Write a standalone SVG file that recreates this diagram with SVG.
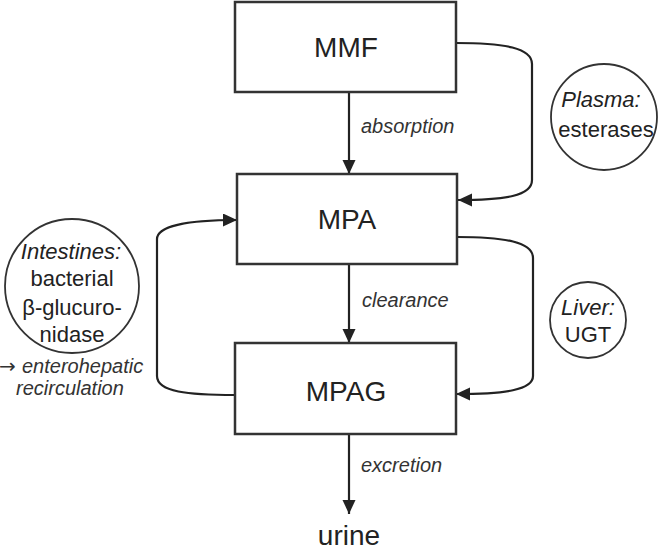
<svg xmlns="http://www.w3.org/2000/svg" width="664" height="556" viewBox="0 0 664 556">
<defs>
<marker id="ah" markerUnits="userSpaceOnUse" markerWidth="15" markerHeight="14" refX="14" refY="6.5" orient="auto">
<path d="M0,0 L14,6.5 L0,13 z" fill="#222"/>
</marker>
<style>
.box{fill:#fff;stroke:#333;stroke-width:2.5}
.circ{fill:#fff;stroke:#333;stroke-width:1.8}
.big{font-family:"Liberation Sans",Arial,sans-serif;font-size:28px;fill:#222;text-anchor:middle}
.lab{font-family:"Liberation Sans",Arial,sans-serif;font-size:20px;font-style:italic;fill:#333}
.ct{font-family:"Liberation Sans",Arial,sans-serif;font-size:22px;fill:#222;text-anchor:middle}
.it{font-style:italic}
.arr{font-family:"DejaVu Sans",sans-serif;font-size:20px;font-style:normal;fill:#333}
.con{fill:none;stroke:#222;stroke-width:2.2}
</style>
</defs>
<rect width="664" height="556" fill="#fff"/>
<g id="connectors">
<path class="con" d="M349,92 V174" marker-end="url(#ah)"/>
<path class="con" d="M349,264 V343" marker-end="url(#ah)"/>
<path class="con" d="M349,434 V514" marker-end="url(#ah)"/>
<path class="con" d="M456,43 C505,43 532,48 532,64 L532,180 C532,196 505,200 458,200" marker-end="url(#ah)"/>
<path class="con" d="M457,237 C505,237 533,242 533,258 L533,376 C533,390 505,394 456,394" marker-end="url(#ah)"/>
<path class="con" d="M235,395 C188,395 157,392 157,376 L157,239 C157,226 188,220 237,220" marker-end="url(#ah)"/>
<text class="lab" x="361" y="133">absorption</text>
<text class="lab" x="362" y="307">clearance</text>
<text class="lab" x="361" y="472">excretion</text>
</g>
<g id="MMF">
<rect class="box" x="235" y="2" width="221" height="90"/>
<text class="big" x="346" y="57">MMF</text>
</g>
<g id="MPA">
<rect class="box" x="237" y="174" width="220" height="90"/>
<text class="big" x="347" y="229">MPA</text>
</g>
<g id="MPAG">
<rect class="box" x="235" y="343" width="221" height="91"/>
<text class="big" x="346" y="401">MPAG</text>
</g>
<g id="urine">
<text class="big" x="349" y="545">urine</text>
</g>
<g id="plasma">
<circle class="circ" cx="604" cy="117" r="53"/>
<text class="ct it" x="601" y="107">Plasma:</text>
<text class="ct" x="606" y="137">esterases</text>
</g>
<g id="liver">
<circle class="circ" cx="588" cy="320" r="38"/>
<text class="ct it" x="588" y="315">Liver:</text>
<text class="ct" x="588" y="342">UGT</text>
</g>
<g id="intestines">
<circle class="circ" cx="72" cy="286" r="67"/>
<text class="ct it" x="71" y="259">Intestines:</text>
<text class="ct" x="72" y="286">bacterial</text>
<text class="ct" x="72" y="315">β-glucuro-</text>
<text class="ct" x="72" y="342">nidase</text>
<text class="arr" x="-1" y="373">→</text>
<text class="lab" x="22" y="373">enterohepatic</text>
<text class="lab" x="16" y="395">recirculation</text>
</g>
</svg>
